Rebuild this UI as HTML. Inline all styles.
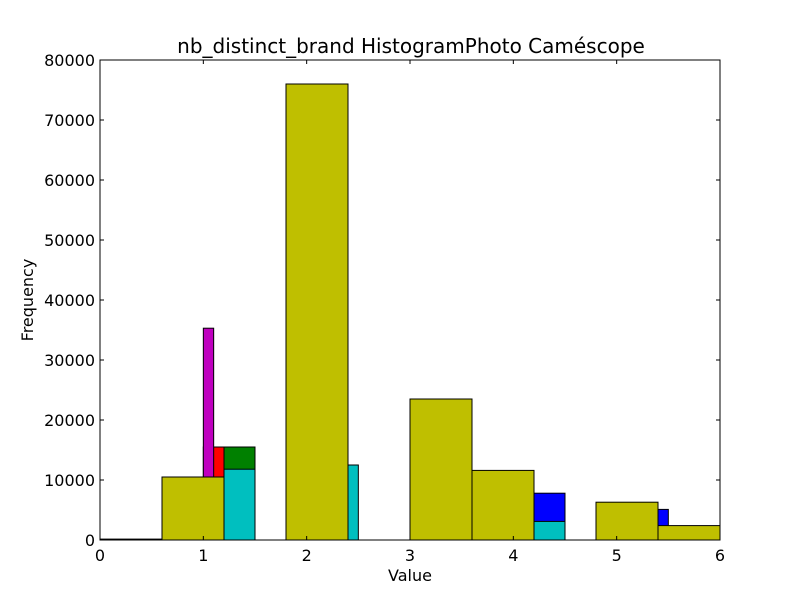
<!DOCTYPE html>
<html><head><meta charset="utf-8"><style>
body{margin:0;background:#fff;}
svg{display:block;font-family:"DejaVu Sans","Liberation Sans",sans-serif;}
</style></head><body>
<svg id="chart" width="800" height="600">
<rect width="800" height="600" fill="#fff"/>
<text x="411" y="53" font-size="20" text-anchor="middle">nb_distinct_brand HistogramPhoto Caméscope</text>
<g id="bars"></g>
<rect x="100" y="60" width="620" height="480" fill="none" stroke="#000" stroke-width="1"/>
<g id="axes"></g>
<text x="410" y="581" font-size="16" text-anchor="middle">Value</text>
<text transform="translate(33,300) rotate(-90)" font-size="16" text-anchor="middle">Frequency</text>
</svg>
<script>
const seriesColors = ["#0000ff","#008000","#ff0000","#00bfbf","#bf00bf","#bfbf00"];
const seriesNames = ["blue","green","red","cyan","magenta","yellow"];
const blueEdges = [[4.2,4.5],[5.4,5.5]];
const blueValues = [7800,5100];
const greenEdges = [[1.2,1.5]];
const greenValues = [15500];
const redEdges = [[1.0,1.2]];
const redValues = [15500];
const cyanEdges = [[1.2,1.5],[2.4,2.5],[4.2,4.5]];
const cyanValues = [11800,12500,3100];
const magentaEdges = [[1.0,1.1]];
const magentaValues = [35300];
const yellowEdges = [[0,0.6],[0.6,1.2],[1.8,2.4],[3.0,3.6],[3.6,4.2],[4.8,5.4],[5.4,6.0]];
const yellowValues = [150,10500,76000,23500,11600,6300,2400];
const xTicks = [0,1,2,3,4,5,6];
const yTicks = [0,10000,20000,30000,40000,50000,60000,70000,80000];

const X0=100,X1=720,Y0=540,Y1=60;
const xs=v=>X0+(v-0)/(6-0)*(X1-X0);
const ys=v=>Y0-(v-0)/(80000-0)*(Y0-Y1);
const NS="http://www.w3.org/2000/svg";
const bars=document.getElementById('bars');
const all=[[blueEdges,blueValues],[greenEdges,greenValues],[redEdges,redValues],[cyanEdges,cyanValues],[magentaEdges,magentaValues],[yellowEdges,yellowValues]];
all.forEach(([edges,vals],si)=>{
  edges.forEach((e,i)=>{
    const r=document.createElementNS(NS,'rect');
    r.setAttribute('x',xs(e[0]));r.setAttribute('width',xs(e[1])-xs(e[0]));
    r.setAttribute('y',ys(vals[i]));r.setAttribute('height',Y0-ys(vals[i]));
    r.setAttribute('fill',seriesColors[si]);r.setAttribute('stroke','#000');r.setAttribute('stroke-width','1');
    
    
    bars.appendChild(r);
  });
});
const axes=document.getElementById('axes');
xTicks.forEach(t=>{
  const x=xs(t);
  [[Y0,Y0-4],[Y1,Y1+4]].forEach(([a,b])=>{
    const l=document.createElementNS(NS,'line');
    l.setAttribute('x1',x);l.setAttribute('x2',x);l.setAttribute('y1',a);l.setAttribute('y2',b);l.setAttribute('stroke','#000');
    
    
    axes.appendChild(l);
  });
  const tx=document.createElementNS(NS,'text');
  tx.setAttribute('x',x);tx.setAttribute('y',Y0+21);tx.setAttribute('font-size','16');tx.setAttribute('text-anchor','middle');
  tx.textContent=t;
  
  
  axes.appendChild(tx);
});
yTicks.forEach(t=>{
  const y=ys(t);
  [[X0,X0+4],[X1,X1-4]].forEach(([a,b])=>{
    const l=document.createElementNS(NS,'line');
    l.setAttribute('x1',a);l.setAttribute('x2',b);l.setAttribute('y1',y);l.setAttribute('y2',y);l.setAttribute('stroke','#000');
    
    
    axes.appendChild(l);
  });
  const tx=document.createElementNS(NS,'text');
  tx.setAttribute('x',X0-5);tx.setAttribute('y',y+6);tx.setAttribute('font-size','16');tx.setAttribute('text-anchor','end');
  tx.textContent=t;
  
  
  axes.appendChild(tx);
});
</script>
</body></html>
